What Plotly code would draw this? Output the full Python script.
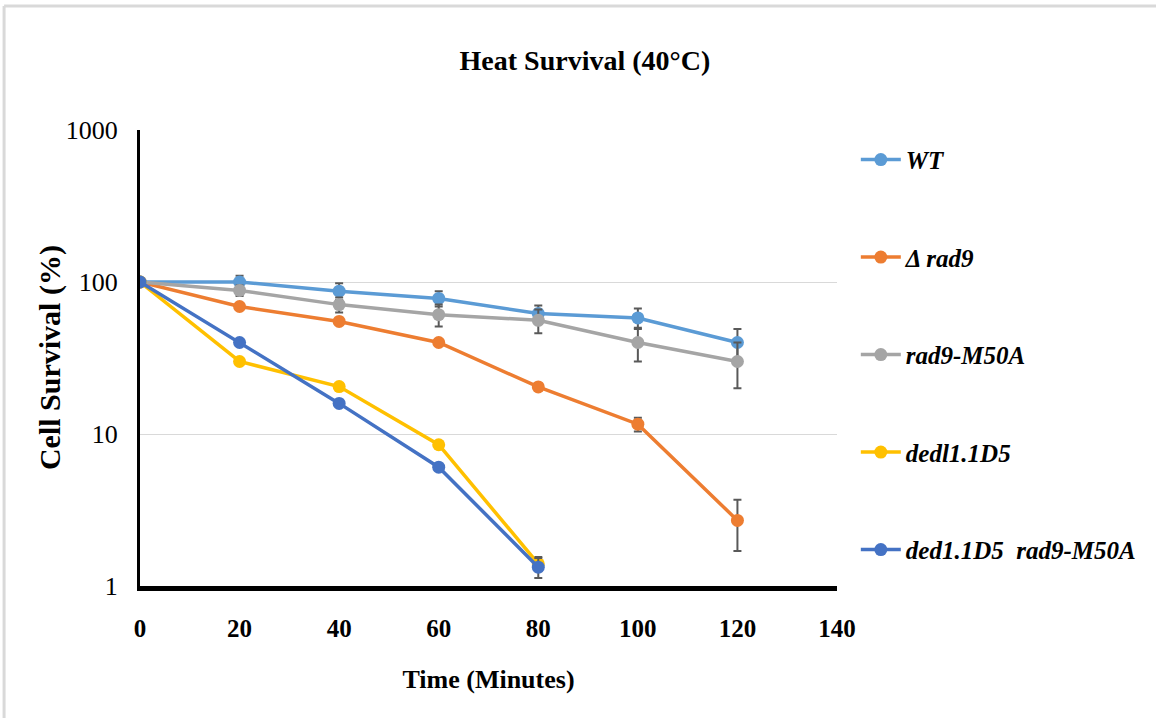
import plotly.graph_objects as go

# Time points (minutes)
time_min = [0, 20, 40, 60, 80, 100, 120]

# Survival (%) per strain
wt = [100, 100, 87, 78, 62, 58, 40]
wt_err = [0, 10, 11, 9, 8, 9, 9]

rad9_del = [100, 69, 55, 40, 20.4, 11.6, 2.7]
rad9_del_err = [0, 0, 0, 0, 0, 1.2, 1.0]

rad9_m50a = [100, 88, 71, 61, 56, 40, 30]
rad9_m50a_err = [0, 7, 8, 10, 10, 10, 10]

ded1 = [100, 30, 20.5, 8.5, 1.4]
ded1_err = [0, 0, 0, 0, 0.15]

ded1_rad9 = [100, 40, 15.9, 6.05, 1.33]
ded1_rad9_err = [0, 0, 0, 0, 0.2]

series = [
    ("<b><i>WT</i></b>", time_min, wt, wt_err, "#5B9BD5"),
    ("<b><i>Δ rad9</i></b>", time_min, rad9_del, rad9_del_err, "#ED7D31"),
    ("<b><i>rad9-M50A</i></b>", time_min, rad9_m50a, rad9_m50a_err, "#A5A5A5"),
    ("<b><i>dedl1.1D5</i></b>", time_min[:5], ded1, ded1_err, "#FFC000"),
    ("<b><i>ded1.1D5  rad9-M50A</i></b>", time_min[:5], ded1_rad9, ded1_rad9_err, "#4472C4"),
]

y_ticks = [1, 10, 100, 1000]
x_ticks = [0, 20, 40, 60, 80, 100, 120, 140]

FONT = "Liberation Serif"

fig = go.Figure()
for i, (name, xs, ys, errs, color) in enumerate(series):
    fig.add_trace(go.Scatter(
        x=xs, y=ys, name=name, mode="lines+markers",
        legendgroup=f"g{i}",
        line=dict(color=color, width=3.5),
        marker=dict(color=color, size=13, symbol="circle"),
        error_y=dict(type="data", array=errs, visible=True,
                     color="#595959", thickness=2, width=4),
    ))

# light frame along the top and left edges of the page
frame = dict(type="line", xref="paper", yref="paper",
             line=dict(color="#D9D9D9", width=3), layer="below")
fig.add_shape(x0=-0.195, x1=1.46, y0=1.272, y1=1.272, **frame)
fig.add_shape(x0=-0.195, x1=-0.195, y0=1.272, y1=-0.3, **frame)

# y-axis title placed close to the tick labels
fig.add_annotation(text="<b>Cell Survival (%)</b>", xref="paper", yref="paper",
                   x=-0.129, y=0.5, xanchor="center", yanchor="middle",
                   textangle=-90, showarrow=False,
                   font=dict(family=FONT, size=30, color="black"))

fig.update_layout(
    width=1156, height=718,
    margin=dict(l=140, r=319, t=130, b=132),
    paper_bgcolor="white", plot_bgcolor="white",
    font=dict(family=FONT, color="black", size=24),
    title=dict(text="<b>Heat Survival (40°C)</b>", x=0.506, xref="container",
               xanchor="center", y=0.916, yref="container", yanchor="middle",
               font=dict(family=FONT, size=28, color="black")),
    legend=dict(x=1.027, y=0.985, xanchor="left", yanchor="top",
                tracegroupgap=62, bgcolor="rgba(0,0,0,0)",
                font=dict(family=FONT, size=25, color="black"),
                itemwidth=40),
    showlegend=True,
)

fig.update_xaxes(
    range=[0, 140], tickvals=x_ticks, ticktext=[f"<b>{v}</b>" for v in x_ticks],
    showgrid=False, zeroline=False,
    showline=True, linecolor="black", linewidth=5,
    ticks="", ticklabelstandoff=16,
    tickfont=dict(family=FONT, size=25, color="black"),
    title=dict(text="<b>Time (Minutes)</b>", standoff=30,
               font=dict(family=FONT, size=26, color="black")),
)
fig.update_yaxes(
    type="log", range=[0, 3], tickvals=y_ticks, ticktext=[str(v) for v in y_ticks],
    showgrid=True, gridcolor="#D9D9D9", gridwidth=1, zeroline=False,
    showline=True, linecolor="black", linewidth=3,
    ticks="", ticklabelstandoff=14,
    tickfont=dict(family=FONT, size=26, color="black"),
)

fig.write_html("out.html")
